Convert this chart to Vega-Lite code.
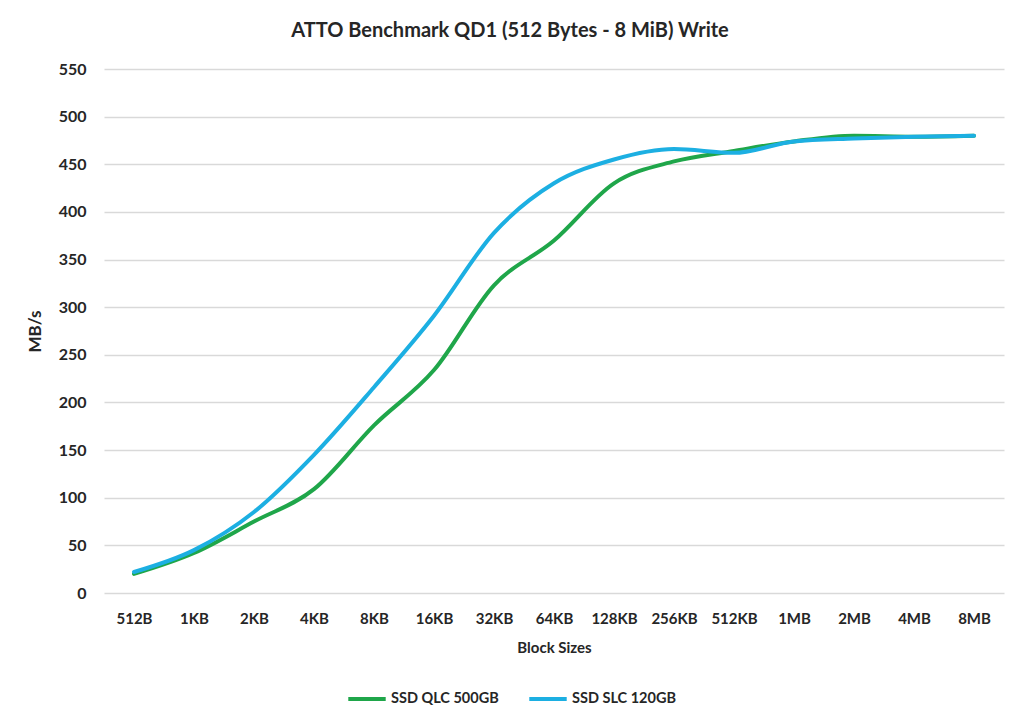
{
  "$schema": "https://vega.github.io/schema/vega-lite/v6.json",
  "width": 900,
  "height": 524,
  "autosize": {"type": "none"},
  "padding": {"left": 104, "top": 69, "right": 20, "bottom": 133},
  "background": "white",
  "title": {
    "text": "ATTO Benchmark QD1 (512 Bytes - 8 MiB) Write",
    "font": "Lato",
    "fontSize": 20,
    "fontWeight": "bold",
    "color": "#262626",
    "anchor": "middle",
    "dx": -44,
    "offset": 20
  },
  "config": {
    "view": {"stroke": null},
    "font": "Lato"
  },
  "data": {
    "values": [
      {"size": "512B", "series": "SSD QLC 500GB", "mbs": 20},
      {"size": "1KB", "series": "SSD QLC 500GB", "mbs": 42},
      {"size": "2KB", "series": "SSD QLC 500GB", "mbs": 75},
      {"size": "4KB", "series": "SSD QLC 500GB", "mbs": 109},
      {"size": "8KB", "series": "SSD QLC 500GB", "mbs": 176},
      {"size": "16KB", "series": "SSD QLC 500GB", "mbs": 234},
      {"size": "32KB", "series": "SSD QLC 500GB", "mbs": 323},
      {"size": "64KB", "series": "SSD QLC 500GB", "mbs": 370},
      {"size": "128KB", "series": "SSD QLC 500GB", "mbs": 430},
      {"size": "256KB", "series": "SSD QLC 500GB", "mbs": 453},
      {"size": "512KB", "series": "SSD QLC 500GB", "mbs": 464},
      {"size": "1MB", "series": "SSD QLC 500GB", "mbs": 474},
      {"size": "2MB", "series": "SSD QLC 500GB", "mbs": 480},
      {"size": "4MB", "series": "SSD QLC 500GB", "mbs": 479},
      {"size": "8MB", "series": "SSD QLC 500GB", "mbs": 480},
      {"size": "512B", "series": "SSD SLC 120GB", "mbs": 22},
      {"size": "1KB", "series": "SSD SLC 120GB", "mbs": 45},
      {"size": "2KB", "series": "SSD SLC 120GB", "mbs": 85},
      {"size": "4KB", "series": "SSD SLC 120GB", "mbs": 145},
      {"size": "8KB", "series": "SSD SLC 120GB", "mbs": 216},
      {"size": "16KB", "series": "SSD SLC 120GB", "mbs": 291},
      {"size": "32KB", "series": "SSD SLC 120GB", "mbs": 378},
      {"size": "64KB", "series": "SSD SLC 120GB", "mbs": 430},
      {"size": "128KB", "series": "SSD SLC 120GB", "mbs": 455},
      {"size": "256KB", "series": "SSD SLC 120GB", "mbs": 466},
      {"size": "512KB", "series": "SSD SLC 120GB", "mbs": 462},
      {"size": "1MB", "series": "SSD SLC 120GB", "mbs": 474},
      {"size": "2MB", "series": "SSD SLC 120GB", "mbs": 477},
      {"size": "4MB", "series": "SSD SLC 120GB", "mbs": 479},
      {"size": "8MB", "series": "SSD SLC 120GB", "mbs": 480}
    ]
  },
  "mark": {"type": "line", "interpolate": "monotone", "strokeWidth": 4, "strokeCap": "round"},
  "encoding": {
    "x": {
      "field": "size",
      "type": "ordinal",
      "sort": null,
      "scale": {"type": "point", "padding": 0.5},
      "axis": {
        "title": "Block Sizes",
        "titleFont": "Lato",
        "titleFontSize": 15,
        "titleFontWeight": "bold",
        "titleColor": "#262626",
        "titlePadding": 14,
        "labelAngle": 0,
        "labelFont": "Lato",
        "labelFontSize": 15,
        "labelFontWeight": "bold",
        "labelColor": "#262626",
        "labelPadding": 18,
        "ticks": false,
        "domain": false,
        "grid": false
      }
    },
    "y": {
      "field": "mbs",
      "type": "quantitative",
      "scale": {"domain": [0, 550]},
      "axis": {
        "title": "MB/s",
        "titleFont": "Lato",
        "titleFontSize": 17,
        "titleFontWeight": "bold",
        "titleColor": "#262626",
        "titlePadding": 14,
        "values": [0, 50, 100, 150, 200, 250, 300, 350, 400, 450, 500, 550],
        "labelFont": "Lato",
        "labelFontSize": 16,
        "labelFontWeight": "bold",
        "labelColor": "#262626",
        "labelPadding": 18,
        "ticks": false,
        "domain": false,
        "gridColor": "#d9d9d9",
        "gridWidth": 1.5
      }
    },
    "color": {
      "field": "series",
      "type": "nominal",
      "scale": {"domain": ["SSD QLC 500GB", "SSD SLC 120GB"], "range": ["#1fa64a", "#1cafe2"]},
      "legend": {
        "title": null,
        "orient": "none",
        "direction": "horizontal",
        "legendX": 242,
        "legendY": 609,
        "symbolType": "stroke",
        "symbolSize": 1400,
        "symbolStrokeWidth": 4,
        "labelFont": "Lato",
        "labelFontSize": 14.5,
        "labelFontWeight": "bold",
        "labelColor": "#262626",
        "labelOffset": 3,
        "columnPadding": 22
      }
    }
  }
}
